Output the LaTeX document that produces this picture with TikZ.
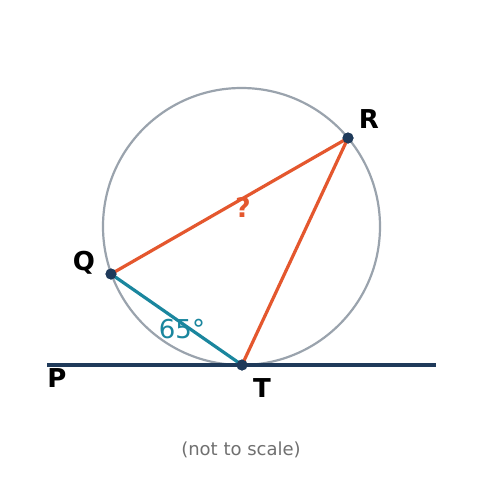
\documentclass[tikz,border=0pt]{standalone}
\usepackage{fontspec}
\setmainfont{DejaVu Sans}
\definecolor{circ}{HTML}{9AA3AD}
\definecolor{oran}{HTML}{E4572E}
\definecolor{teal2}{HTML}{1A869E}
\definecolor{navy}{HTML}{1F3A5A}
\definecolor{note}{HTML}{707070}
\tikzset{
  pt/.style={circle,fill=navy,inner sep=0pt,minimum size=11pt},
  lbl/.style={font=\fontsize{26}{30}\selectfont\bfseries,text=black,inner sep=0pt},
}
\begin{document}
\begin{tikzpicture}[x=1pt,y=-1pt]
\useasboundingbox (0,0) rectangle (483,496);
\fill[white] (0,0) rectangle (483,496);
\draw[circ,line width=2.2pt] (241.5,226.5) circle[radius=138.5];
\coordinate (Pl) at (47,365);
\coordinate (Pr) at (436,365);
\node[pt] (R) at (348,138) {};
\node[pt] (Q) at (111,274) {};
\node[pt] (T) at (242,365) {};
\draw[navy,line width=3.2pt] (Pl) -- (Pr);
\draw[oran,line width=3.2pt] (Q.center) -- (R.center) -- (T.center);
\draw[teal2,line width=3.2pt] (Q.center) -- (T.center);
\node[pt] at (R) {};
\node[pt] at (Q) {};
\node[pt] at (T) {};
\node[lbl] (lR) at (369,119) {R};
\node[lbl] (lQ) at (84,263) {Q};
\node[lbl] (lP) at (57,378) {P};
\node[lbl] (lT) at (262,388) {T};
\node[font=\fontsize{27}{30}\selectfont\bfseries,text=oran,inner sep=0pt] (qm) at (243,207) {?};
\node[font=\fontsize{26}{30}\selectfont,text=teal2,inner sep=0pt] (ang) at (182,329) {65°};
\node[font=\fontsize{18}{22}\selectfont,text=note,inner sep=0pt] (nt) at (241,450) {(not to scale)};
\end{tikzpicture}
\end{document}
